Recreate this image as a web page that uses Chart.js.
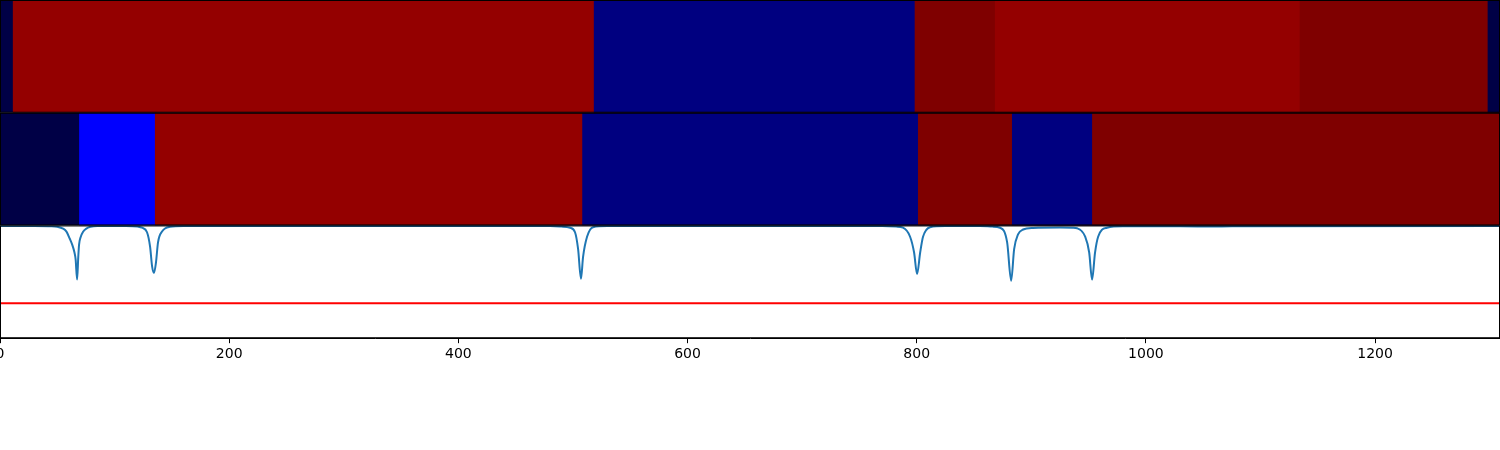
<!DOCTYPE html>
<html>
<head>
<meta charset="utf-8">
<script src="https://cdn.jsdelivr.net/npm/chart.js@4"></script>
<style>
  html, body { margin: 0; padding: 0; background: #fff; }
  #wrap { width: 1500px; height: 450px; }
</style>
</head>
<body>
<div id="wrap"><canvas id="c"></canvas></div>
<script>
// bandes du haut / du milieu : bornes et niveau de chaque segment
const topEdges = [0, 11, 518, 798, 868, 1134, 1298, 1309];
const topLevels = ['low', 'high', 'navy', 'max', 'high', 'max', 'low'];
const midEdges = [0, 69, 135, 508, 801, 883, 953, 1309];
const midLevels = ['low', 'blue', 'high', 'navy', 'max', 'navy', 'max'];

// courbe du bas
const lineX = [0, 30, 45, 50, 55, 58, 61, 63, 65, 66, 67.3, 68.3, 69, 70.5, 72.5, 75, 79, 85,
  110, 120, 124, 128.3, 131, 132.7, 134.4, 136.1, 137.9, 141.4, 148.4, 160,
  480, 490, 497.5, 501.8, 504.5, 507, 508.8, 512.3, 517.5, 530,
  770, 782, 788, 794.2, 797.7, 800.3, 803, 805.5, 811.6, 825,
  855, 866, 872.7, 878.9, 882.4, 885, 888.4, 892.8, 901.5, 925, 936, 940, 947, 950.5, 953, 955.6, 958.3, 966, 980,
  1030, 1060, 1090, 1309];
const lineY = [0.995, 0.995, 0.993, 0.988, 0.972, 0.945, 0.88, 0.83, 0.76, 0.7, 0.52, 0.72, 0.83, 0.9, 0.945, 0.97, 0.988, 0.995,
  0.995, 0.99, 0.98, 0.94, 0.81, 0.64, 0.58, 0.67, 0.85, 0.946, 0.988, 0.995,
  0.995, 0.99, 0.98, 0.94, 0.79, 0.527, 0.72, 0.9, 0.985, 0.995,
  0.995, 0.99, 0.98, 0.9, 0.76, 0.57, 0.76, 0.9, 0.985, 0.995,
  0.995, 0.99, 0.98, 0.85, 0.51, 0.79, 0.92, 0.964, 0.978, 0.982, 0.98, 0.975, 0.9, 0.76, 0.52, 0.76, 0.9, 0.98, 0.993,
  0.993, 0.99, 0.994, 0.995];
const thresholdY = 0.31;

const xTicks = [0, 200, 400, 600, 800, 1000, 1200];
const xMax = 1309;

// couleurs des niveaux
const levelColors = {
  low: '#000046',
  blue: '#0000ff',
  navy: '#000080',
  high: '#940000',
  max: '#7f0000'
};

// chaque segment va de son bord gauche jusqu'au bout, le suivant le recouvre (pas de liseré blanc)
function bandDatasets(edges, levels, axisId) {
  return levels.map(function (lv, i) {
    return {
      type: 'line',
      yAxisID: axisId,
      data: [{ x: edges[i], y: 1 }, { x: edges[edges.length - 1], y: 1 }],
      borderWidth: 0,
      borderColor: 'rgba(0,0,0,0)',
      backgroundColor: levelColors[lv],
      pointRadius: 0,
      fill: 'origin',
      order: 100 - i
    };
  });
}

const datasets = []
  .concat(bandDatasets(topEdges, topLevels, 'yTop'))
  .concat(bandDatasets(midEdges, midLevels, 'yMid'));

datasets.push({
  type: 'line',
  yAxisID: 'yLine',
  data: [{ x: 0, y: thresholdY }, { x: xMax, y: thresholdY }],
  borderColor: '#ff0000',
  borderWidth: 2,
  pointRadius: 0,
  fill: false,
  order: 1
});
datasets.push({
  type: 'line',
  yAxisID: 'yLine',
  data: lineX.map(function (x, i) { return { x: x, y: lineY[i] }; }),
  borderColor: '#1f77b4',
  borderWidth: 2,
  pointRadius: 0,
  cubicInterpolationMode: 'monotone',
  fill: false,
  order: 0
});

// cadres noirs autour de chaque panneau
const framePlugin = {
  id: 'frames',
  afterDraw(chart) {
    const ctx = chart.ctx, area = chart.chartArea;
    ctx.save();
    ctx.strokeStyle = '#000';
    ctx.lineWidth = 1;
    ['yTop', 'yMid', 'yLine'].forEach(function (id) {
      const s = chart.scales[id];
      ctx.strokeRect(area.left + 0.5, s.top + 0.5, area.right - area.left - 1, s.bottom - s.top - 1);
    });
    ctx.restore();
  }
};

const hiddenY = {
  type: 'linear',
  min: 0,
  max: 1,
  stack: 'panels',
  stackWeight: 1,
  position: 'left',
  ticks: { display: false },
  grid: { display: false },
  border: { display: false },
  afterFit: function (scale) { scale.width = 0; }
};

new Chart(document.getElementById('c'), {
  type: 'line',
  data: { datasets: datasets },
  options: {
    responsive: true,
    maintainAspectRatio: false,
    animation: false,
    layout: { padding: { left: 0, right: 0, top: 0, bottom: 84 } },
    plugins: { legend: { display: false }, tooltip: { enabled: false } },
    scales: {
      x: {
        type: 'linear',
        min: 0,
        max: xMax,
        afterBuildTicks: function (scale) {
          scale.ticks = xTicks.map(function (v) { return { value: v }; });
        },
        afterFit: function (scale) {
          scale.paddingLeft = 0;
          scale.paddingRight = 0;
        },
        ticks: {
          color: '#000',
          font: { family: 'DejaVu Sans', size: 14 },
          padding: 3,
          maxRotation: 0,
          callback: function (v) { return String(v); }
        },
        grid: { drawOnChartArea: false, drawTicks: true, tickLength: 5, color: '#000' },
        border: { display: true, color: '#000' }
      },
      yLine: Object.assign({}, hiddenY),
      yMid: Object.assign({}, hiddenY),
      yTop: Object.assign({}, hiddenY)
    }
  },
  plugins: [framePlugin]
});
</script>
</body>
</html>
